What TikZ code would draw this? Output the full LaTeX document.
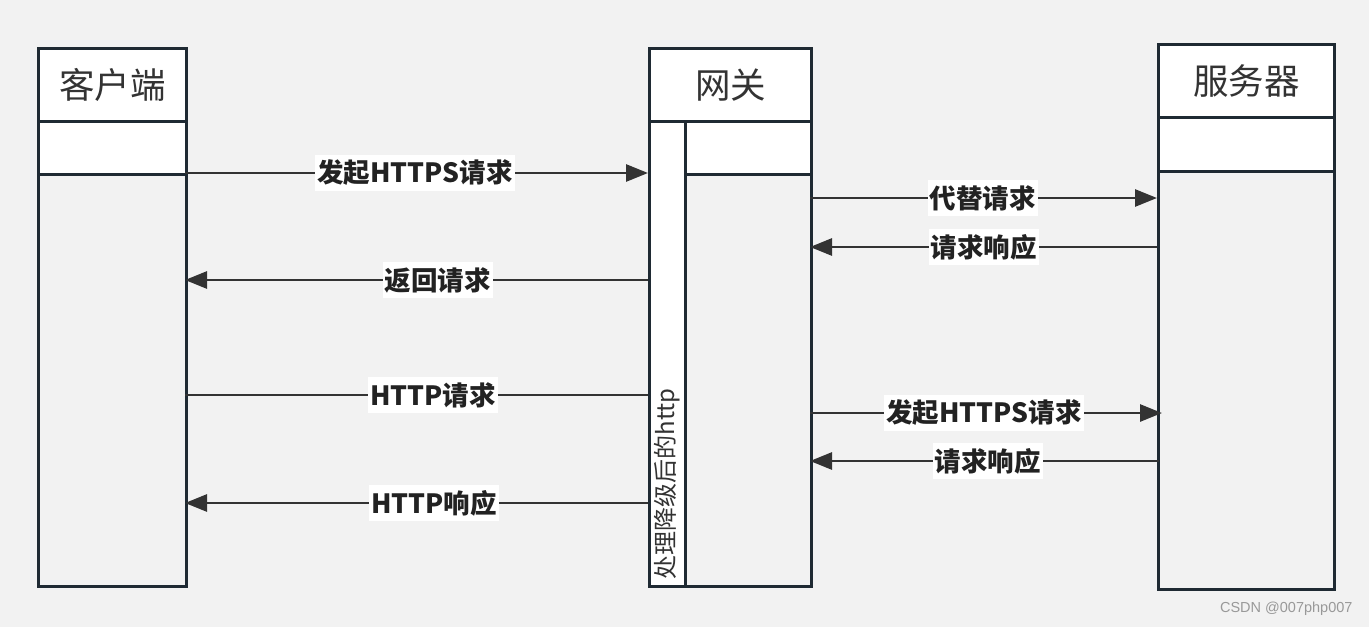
\documentclass[tikz,border=0pt]{standalone}
\usepackage{fontspec}
\setmainfont{Liberation Sans}
\newfontfamily\cjk{Noto Sans CJK SC}
\usetikzlibrary{arrows.meta}
\definecolor{bg}{HTML}{F2F2F2}
\definecolor{boxline}{HTML}{1F2A33}
\definecolor{arrline}{HTML}{333333}
\definecolor{txt}{HTML}{222222}
\definecolor{wm}{HTML}{999999}
\tikzset{
  lane/.style={draw=boxline, line width=3pt, anchor=north west, inner sep=0pt},
  head/.style={lane, fill=white, font=\cjk\fontsize{35.5}{40}\selectfont, text=arrline},
  row/.style={lane, fill=white},
  arr/.style={draw=arrline, line width=2.8pt, -{Triangle[length=22pt,width=17pt]}},
  plain/.style={draw=arrline, line width=2.8pt},
  lbl/.style={fill=white, text=txt, inner xsep=2pt, inner ysep=5pt, font=\cjk\bfseries\fontsize{26.5}{30}\selectfont}
}
\begin{document}
\begin{tikzpicture}[x=1pt,y=-1pt]
\fill[bg] (0,0) rectangle (1369,627);
\useasboundingbox (0,0) rectangle (1369,627);

% client
\node[lane, minimum width=148pt, minimum height=538pt] (cbody) at (37,47) {};
\node[head, minimum width=148pt, minimum height=73pt] (chead) at (37,47) {客户端};
\node[row, minimum width=148pt, minimum height=53pt] (crow) at (37,120) {};

% gateway
\node[lane, minimum width=162pt, minimum height=538pt] (gbody) at (648,47) {};
\node[head, minimum width=162pt, minimum height=73pt] (ghead) at (648,47) {网关};
\node[row, minimum width=126pt, minimum height=53pt] (grow) at (684,120) {};
\node[row, minimum width=36pt, minimum height=465pt] (gstrip) at (648,120) {};
\node[rotate=90, text=arrline, font=\cjk\fontsize{24}{28}\selectfont] (gtext) at (667,484) {处理降级后的http};

% server
\node[lane, minimum width=176pt, minimum height=545pt] (sbody) at (1157,43) {};
\node[head, minimum width=176pt, minimum height=73pt] (shead) at (1157,43) {服务器};
\node[row, minimum width=176pt, minimum height=54pt] (srow) at (1157,116) {};

% connector end points
\coordinate (c1) at (185,173);  \coordinate (g1) at (648,173);
\coordinate (g2) at (810,198);  \coordinate (s2) at (1157,198);
\coordinate (s3) at (1157,247); \coordinate (g3) at (810,247);
\coordinate (g4) at (648,280);  \coordinate (c4) at (185,280);
\coordinate (c5) at (185,395);  \coordinate (g5) at (648,395);
\coordinate (g6) at (810,413);  \coordinate (s6) at (1162,413);
\coordinate (s7) at (1159,461); \coordinate (g7) at (810,461);
\coordinate (g8) at (648,503);  \coordinate (c8) at (185,503);

\draw[arr] (c1) -- node[lbl, pos=0.497] {发起HTTPS请求} (g1);
\draw[arr] (g2) -- node[lbl, pos=0.498] {代替请求} (s2);
\draw[arr] (s3) -- node[lbl, pos=0.5] {请求响应} (g3);
\draw[arr] (g4) -- node[lbl, pos=0.454] {返回请求} (c4);
\draw[plain] (c5) -- node[lbl, pos=0.536] {HTTP请求} (g5);
\draw[arr] (g6) -- node[lbl, pos=0.494] {发起HTTPS请求} (s6);
\draw[arr] (s7) -- node[lbl, pos=0.49] {请求响应} (g7);
\draw[arr] (g8) -- node[lbl, pos=0.462] {HTTP响应} (c8);

\node[text=wm, font=\fontsize{14.5}{17}\selectfont, anchor=east] (wmark) at (1356,609) {CSDN @007php007};
\end{tikzpicture}
\end{document}
